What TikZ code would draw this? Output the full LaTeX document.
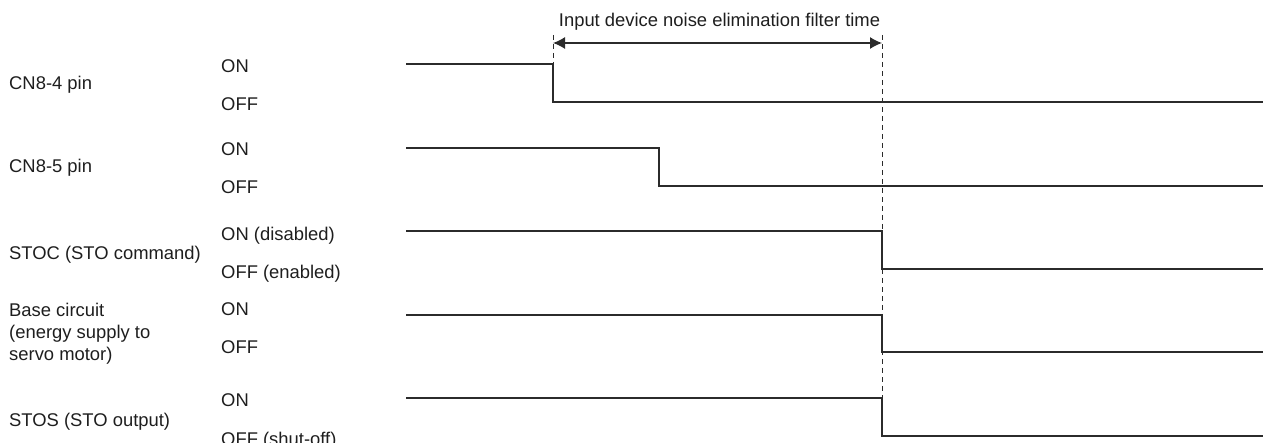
\documentclass[tikz,border=0pt]{standalone}
\usepackage{fontspec}
\setmainfont{Liberation Sans}
\usetikzlibrary{arrows.meta}
\definecolor{ink}{HTML}{1E1E1E}
\definecolor{wire}{HTML}{2B2B2B}
\begin{document}
\begin{tikzpicture}[x=1pt,y=-1pt,
  lbl/.style={anchor=base west,inner sep=0pt,text=ink,font=\fontsize{18.4}{21.5}\selectfont},
  wave/.style={draw=wire,line width=1.3pt},
  guide/.style={draw=wire,line width=1pt,dash pattern=on 5pt off 4pt},
  span/.style={draw=wire,line width=1.3pt,{Latex[length=12pt,width=12pt]}-{Latex[length=12pt,width=12pt]}}]
\useasboundingbox (0,0) rectangle (1263,443);
% signal labels
\node[lbl] (s1) at (9,90) {CN8-4 pin};
\node[lbl] (s2) at (9,173) {CN8-5 pin};
\node[lbl] (s3) at (9,260) {STOC (STO command)};
\node[lbl] (s4a) at (9,317) {Base circuit};
\node[lbl] (s4b) at (9,339) {(energy supply to};
\node[lbl] (s4c) at (9,360) {servo motor)};
\node[lbl] (s5) at (9,426) {STOS (STO output)};
% state labels
\node[lbl] (on1) at (221,73) {ON};
\node[lbl] (off1) at (221,111) {OFF};
\node[lbl] (on2) at (221,156) {ON};
\node[lbl] (off2) at (221,194) {OFF};
\node[lbl] (on3) at (221,241) {ON (disabled)};
\node[lbl] (off3) at (221,279) {OFF (enabled)};
\node[lbl] (on4) at (221,316) {ON};
\node[lbl] (off4) at (221,354) {OFF};
\node[lbl] (on5) at (221,406) {ON};
\node[lbl] (off5) at (221,445.5) {OFF (shut-off)};
% waveforms
\draw[wave] (406,64) -- (553,64) -- (553,102) -- (1263,102);
\draw[wave] (406,148) -- (659,148) -- (659,186) -- (1263,186);
\draw[wave] (406,231) -- (882,231) -- (882,269) -- (1263,269);
\draw[wave] (406,315) -- (882,315) -- (882,352) -- (1263,352);
\draw[wave] (406,398) -- (882,398) -- (882,436) -- (1263,436);
% guides
\coordinate (gl) at (553,35);
\coordinate (gr) at (882,35);
\coordinate (al) at (553,43);
\coordinate (ar) at (882,43);
\draw[guide] (gl) -- (553,64);
\draw[guide] (gr) -- (882,398);
\draw[span] (al) -- (ar);
\node[lbl,anchor=base] (t) at (719.5,27) {Input device noise elimination filter time};
\end{tikzpicture}
\end{document}
